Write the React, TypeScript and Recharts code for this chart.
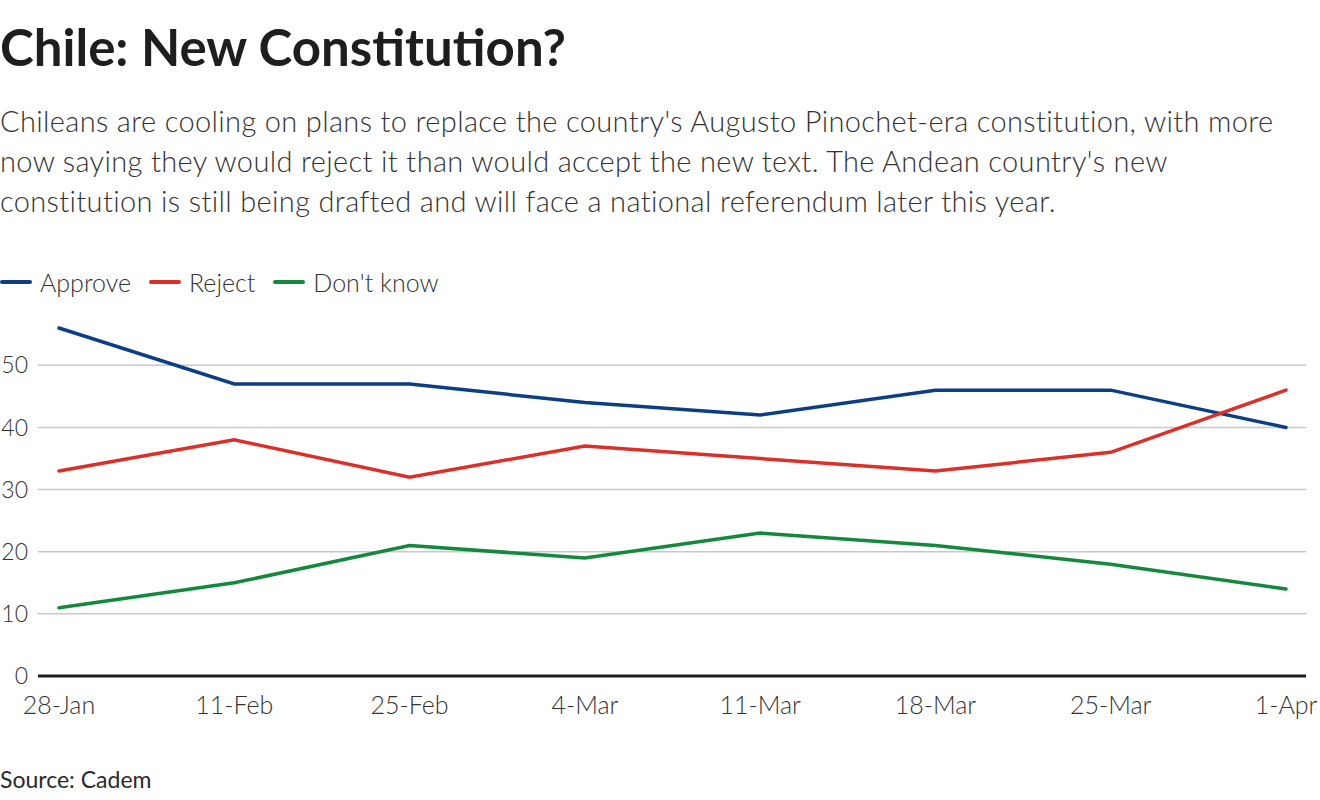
import { CartesianGrid, Line, LineChart, XAxis, YAxis } from "recharts";

const dates = ["28-Jan", "11-Feb", "25-Feb", "4-Mar", "11-Mar", "18-Mar", "25-Mar", "1-Apr"];
const approve = [56, 47, 47, 44, 42, 46, 46, 40];
const reject = [33, 38, 32, 37, 35, 33, 36, 46];
const dontKnow = [11, 15, 21, 19, 23, 21, 18, 14];
const yTicks = [0, 10, 20, 30, 40, 50];

const subtitleLines = [
  "Chileans are cooling on plans to replace the country's Augusto Pinochet-era constitution, with more",
  "now saying they would reject it than would accept the new text. The Andean country's new",
  "constitution is still being drafted and will face a national referendum later this year."
];

const series = [
  { key: "approve", name: "Approve", color: "#0c3e84" },
  { key: "reject", name: "Reject", color: "#dc2f2a" },
  { key: "dontKnow", name: "Don't know", color: "#14893e" }
];

const data = dates.map((date, i) => ({
  date,
  approve: approve[i],
  reject: reject[i],
  dontKnow: dontKnow[i]
}));

const FONT = "Lato, 'Noto Sans', sans-serif";

export default function App() {
  return (
    <div
      style={{
        position: "absolute",
        left: 0,
        top: 0,
        width: 1320,
        height: 800,
        background: "#fff",
        fontFamily: FONT,
        color: "#222"
      }}
    >
      <div
        style={{
          position: "absolute",
          left: 0,
          top: 17,
          fontSize: 51,
          fontWeight: 700,
          lineHeight: "60px",
          color: "#1e1e1e",
          whiteSpace: "nowrap"
        }}
      >
        Chile: New Constitution?
      </div>
      <div
        style={{
          position: "absolute",
          left: 0,
          top: 101,
          fontSize: 29,
          fontWeight: 300,
          lineHeight: "40px",
          letterSpacing: 0.35,
          color: "#333",
          whiteSpace: "nowrap"
        }}
      >
        {subtitleLines.map((l) => (
          <div key={l}>{l}</div>
        ))}
      </div>

      <div
        style={{
          position: "absolute",
          left: 0,
          top: 266,
          display: "flex",
          alignItems: "center",
          fontSize: 25,
          fontWeight: 300,
          color: "#333",
          lineHeight: "32px"
        }}
      >
        {series.map((s) => (
          <div key={s.key} style={{ display: "flex", alignItems: "center", marginRight: 18 }}>
            <div
              style={{
                width: 32,
                height: 4,
                borderRadius: 2,
                background: s.color,
                marginRight: 8
              }}
            />
            <span>{s.name}</span>
          </div>
        ))}
      </div>

      <div style={{ position: "absolute", left: 0, top: 0 }}>
        <LineChart
          width={1320}
          height={800}
          data={data}
          margin={{ top: 328, right: 14, bottom: 84, left: 0 }}
        >
          <CartesianGrid
            vertical={false}
            horizontalValues={yTicks}
            stroke="#c8c8c8"
            strokeWidth={1.5}
          />
          <XAxis
            dataKey="date"
            interval={0}
            height={40}
            padding={{ left: 21, right: 20 }}
            axisLine={{ stroke: "#1e1e1e", strokeWidth: 3 }}
            tickLine={false}
            tickSize={0}
            tickMargin={20}
            tick={{ fill: "#333", fontSize: 25, fontWeight: 300, fontFamily: FONT }}
          />
          <YAxis
            domain={[0, 56]}
            ticks={yTicks}
            width={38}
            axisLine={false}
            tickLine={false}
            tickSize={0}
            tickMargin={10}
            tick={{ fill: "#333", fontSize: 23, fontWeight: 300, fontFamily: FONT }}
          />
          {series.map((s) => (
            <Line
              key={s.key}
              type="linear"
              dataKey={s.key}
              name={s.name}
              stroke={s.color}
              strokeWidth={3.5}
              strokeLinecap="round"
              dot={false}
              activeDot={false}
              isAnimationActive={false}
            />
          ))}
        </LineChart>
      </div>

      <div
        style={{
          position: "absolute",
          left: 0,
          top: 765,
          fontSize: 23,
          fontWeight: 400,
          color: "#2a2a2a"
        }}
      >
        Source: Cadem
      </div>
    </div>
  );
}
